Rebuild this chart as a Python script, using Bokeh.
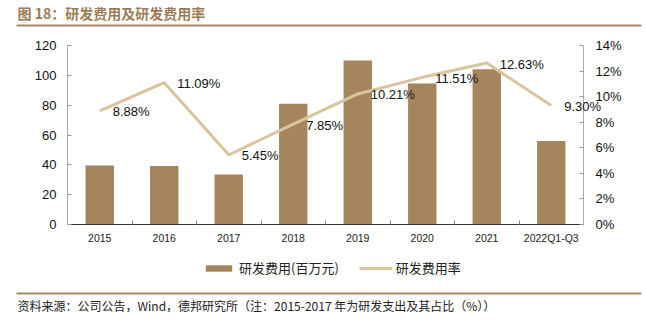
from bokeh.plotting import figure
from bokeh.models import (Range1d, LinearAxis, FixedTicker, PrintfTickFormatter,
                          ColumnDataSource, Legend, LegendItem, LabelSet, Label, BoxAnnotation)
from bokeh.embed import file_html
from bokeh.resources import INLINE
from bokeh.core.properties import value

categories = ["2015", "2016", "2017", "2018", "2019", "2020", "2021", "2022Q1-Q3"]
rd_expense = [39.5, 39.2, 33.5, 81, 110, 94.5, 104, 56]
rd_rate = [8.88, 11.09, 5.45, 7.85, 10.21, 11.51, 12.63, 9.30]
rate_labels = ["8.88%", "11.09%", "5.45%", "7.85%", "10.21%", "11.51%", "12.63%", "9.30%"]
left_ticks = [0, 20, 40, 60, 80, 100, 120]
right_ticks = [0, 2, 4, 6, 8, 10, 12, 14]
title_text = "图 18：研发费用及研发费用率"
source_text = "资料来源：公司公告，Wind，德邦研究所（注：2015-2017 年为研发支出及其占比（%））"
legend_labels = ["研发费用(百万元)", "研发费用率"]

BAR = "#a6845c"
LINE = "#d8c59e"
BROWN = "#9c7b56"
RULE = "#a68a6a"
NUM_FONT = "Liberation Sans"
CJK_FONT = "Noto Sans CJK SC"

# canvas and plot-area geometry (pixels)
W, H = 645, 326
PL, PR, PT, PB = 67, 583, 45, 224
YMAX, PMAX = 120, 14

n = len(categories)
cw = (PR - PL) / n
ppu = (PB - PT) / YMAX
ppp = (PB - PT) / PMAX
x_range = Range1d(-0.5 - PL / cw, n - 0.5 + (W - PR) / cw)
y_range = Range1d(-(H - PB) / ppu, YMAX + PT / ppu)
pct_range = Range1d(-(H - PB) / ppp, PMAX + PT / ppp)

xs = list(range(n))
src = ColumnDataSource(dict(x=xs, v=rd_expense, r=rd_rate, lab=rate_labels))

p = figure(width=W, height=H, output_backend="svg", toolbar_location=None,
           x_range=x_range, y_range=y_range, min_border=0,
           background_fill_color="white", border_fill_color="white")
p.outline_line_color = None
p.grid.visible = False
p.extra_y_ranges = {"pct": pct_range}

bars = p.vbar(x="x", top="v", width=0.44, source=src, fill_color=BAR, line_color=None)
ln = p.line(x="x", y="r", source=src, y_range_name="pct", line_color=LINE, line_width=3)
p.add_layout(LabelSet(x="x", y="r", text="lab", source=src, y_range_name="pct",
                      x_offset=13, y_offset=-1, text_align="left", text_baseline="middle",
                      text_font=value(NUM_FONT), text_font_size=value("13px"),
                      text_color=value("#111111")))

# bottom (category) axis
xa = p.xaxis[0]
xa.fixed_location = 0
xa.bounds = (-0.5, n - 0.5)
xa.ticker = FixedTicker(ticks=xs, minor_ticks=[i + 0.5 for i in xs[:-1]])
xa.major_label_overrides = {i: c for i, c in enumerate(categories)}
xa.major_tick_in = 0
xa.major_tick_out = 0
xa.minor_tick_in = 4
xa.minor_tick_out = 0
xa.minor_tick_line_color = "#888888"
xa.axis_line_color = "#333333"
xa.major_label_text_font = NUM_FONT
xa.major_label_text_font_size = "10.5px"
xa.major_label_text_color = "#222222"
xa.major_label_standoff = 7

# left axis
ya = p.yaxis[0]
ya.fixed_location = -0.5
ya.bounds = (0, YMAX)
ya.ticker = FixedTicker(ticks=left_ticks)
ya.minor_tick_line_color = None
ya.major_tick_in = 4
ya.major_tick_out = 0
ya.axis_line_color = "#aaaaaa"
ya.major_tick_line_color = "#999999"
ya.major_label_text_font = NUM_FONT
ya.major_label_text_font_size = "13px"
ya.major_label_text_color = "#111111"
ya.major_label_standoff = 11

# right axis
ra = LinearAxis(y_range_name="pct", ticker=FixedTicker(ticks=right_ticks),
                formatter=PrintfTickFormatter(format="%d%%"))
ra.fixed_location = n - 0.5
ra.bounds = (0, PMAX)
ra.minor_tick_line_color = None
ra.major_tick_in = 4
ra.major_tick_out = 0
ra.axis_line_color = "#aaaaaa"
ra.major_tick_line_color = "#999999"
ra.major_label_text_font = NUM_FONT
ra.major_label_text_font_size = "13px"
ra.major_label_text_color = "#111111"
ra.major_label_standoff = 12
p.add_layout(ra, "right")

# legend
legend = Legend(items=[LegendItem(label=legend_labels[0], renderers=[bars]),
                       LegendItem(label=legend_labels[1], renderers=[ln])],
                orientation="horizontal", location=(202, 49),
                label_text_font=CJK_FONT, label_text_font_size="13px",
                label_text_color="#222222", glyph_width=33, glyph_height=8,
                label_height=16, spacing=20, label_standoff=4, padding=0, margin=0,
                border_line_color=None, background_fill_alpha=0)
p.add_layout(legend)

# title, rules, source note
p.add_layout(Label(x=17, y=H - 12.5, x_units="screen", y_units="screen", text=title_text,
                   text_font=CJK_FONT, text_font_size="14px", text_font_style="bold",
                   text_color=BROWN, text_baseline="middle"))
p.add_layout(BoxAnnotation(left=16, right=641, top=H - 24, bottom=H - 26,
                           left_units="screen", right_units="screen",
                           top_units="screen", bottom_units="screen",
                           fill_color=RULE, fill_alpha=1, line_color=None))
p.add_layout(BoxAnnotation(left=16, right=641, top=H - 292, bottom=H - 294,
                           left_units="screen", right_units="screen",
                           top_units="screen", bottom_units="screen",
                           fill_color=RULE, fill_alpha=1, line_color=None))
p.add_layout(Label(x=17, y=H - 305, x_units="screen", y_units="screen", text=source_text,
                   text_font=CJK_FONT, text_font_size="12px", text_color="#222222",
                   text_baseline="middle"))

open("out.html", "w").write(file_html(p, INLINE))
